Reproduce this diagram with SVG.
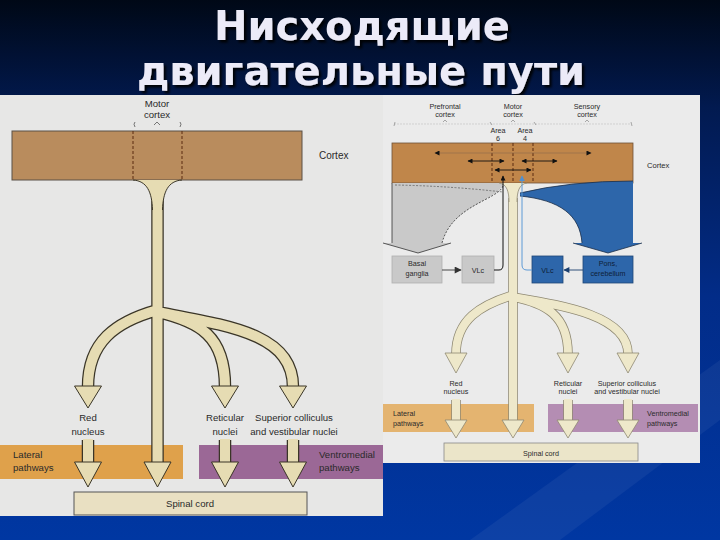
<svg xmlns="http://www.w3.org/2000/svg" width="720" height="540" viewBox="0 0 720 540">
<defs>
<linearGradient id="bg" x1="0" y1="0" x2="0" y2="1">
<stop offset="0" stop-color="#000816"/>
<stop offset="0.2" stop-color="#021a50"/>
<stop offset="0.55" stop-color="#022c88"/>
<stop offset="1" stop-color="#0037a2"/>
</linearGradient>
<filter id="sh" x="-10%" y="-10%" width="130%" height="140%"><feDropShadow dx="2.5" dy="2.5" stdDeviation="0.8" flood-color="#000" flood-opacity="0.9"/></filter>
<marker id="ak" viewBox="0 0 10 10" refX="9" refY="5" markerWidth="6" markerHeight="5" orient="auto-start-reverse" markerUnits="userSpaceOnUse"><path d="M0,0 L10,5 L0,10 Z" fill="#111"/></marker>
<marker id="ab" viewBox="0 0 10 10" refX="9" refY="5" markerWidth="6" markerHeight="6" orient="auto-start-reverse" markerUnits="userSpaceOnUse"><path d="M0,0 L10,5 L0,10 Z" fill="#4f8fd0"/></marker>
<marker id="adb" viewBox="0 0 10 10" refX="9" refY="5" markerWidth="7" markerHeight="6" orient="auto-start-reverse" markerUnits="userSpaceOnUse"><path d="M0,0 L10,5 L0,10 Z" fill="#1b3f6e"/></marker>
<marker id="ag" viewBox="0 0 10 10" refX="9" refY="5" markerWidth="8" markerHeight="7" orient="auto-start-reverse" markerUnits="userSpaceOnUse"><path d="M0,0 L10,5 L0,10 Z" fill="#333"/></marker>
</defs>
<style>
.t{font-family:"Liberation Sans",Arial,sans-serif;fill:#2a2a2a}
.l{font-size:9.6px}
.r{font-size:7.2px}
.m{text-anchor:middle}
.ttl{font-family:"DejaVu Sans",Verdana,sans-serif;font-weight:bold;font-size:40px;fill:#ecebf8;text-anchor:middle}
.to{fill:none;stroke:#3a3527;stroke-width:12.5}
.ti{fill:none;stroke:#e6dcb3;stroke-width:10}
.hd{fill:#e6dcb3;stroke:#3a3527;stroke-width:1}
.rto{fill:none;stroke:#8e8872;stroke-width:9.5}
.rti{fill:none;stroke:#eee8ca;stroke-width:8}
.rhd{fill:#eee8ca;stroke:#8e8872;stroke-width:0.8}
.dash{stroke:#5a2a10;stroke-width:1;stroke-dasharray:3,2;fill:none}
</style>

<rect width="720" height="540" fill="url(#bg)"/>
<polygon points="470,540 720,360 720,420 560,540" fill="#ffffff" opacity="0.05"/>

<g id="title" filter="url(#sh)">
<text class="ttl" x="362" y="40">Нисходящие</text>
<text class="ttl" x="361" y="85">двигательные пути</text>
</g>

<!-- LEFT DIAGRAM -->
<g id="left-panel">
<rect x="0" y="95" width="383" height="421" fill="#e7e7e6"/>
</g>
<g id="left-motor-label">
<text class="t l m" x="157" y="107">Motor</text>
<text class="t l m" x="157" y="118">cortex</text>
<path d="M154,125 L157,122 L160,125" fill="none" stroke="#444" stroke-width="0.7"/>
<path d="M135,127 Q133,124 135,122" fill="none" stroke="#555" stroke-width="0.8"/>
<path d="M180,127 Q182,124 180,122" fill="none" stroke="#555" stroke-width="0.8"/>
</g>
<g id="left-cortex">
<rect x="12" y="131" width="290" height="49" fill="#b98c5d" stroke="#5a5046" stroke-width="1"/>
<line class="dash" x1="133" y1="131" x2="133" y2="180"/>
<line class="dash" x1="182" y1="131" x2="182" y2="180"/>
<text class="t" x="319" y="159" font-size="10">Cortex</text>
</g>
<g id="left-bands">
<rect x="0" y="445" width="183" height="34" fill="#dfa14b"/>
<rect x="199" y="445" width="184" height="34" fill="#9b6896"/>
<text class="t l" x="13" y="458">Lateral</text>
<text class="t l" x="13" y="471">pathways</text>
<text class="t l" x="319" y="458">Ventromedial</text>
<text class="t l" x="319" y="471">pathways</text>
</g>
<g id="left-labels">
<text class="t l m" x="88" y="421">Red</text>
<text class="t l m" x="88" y="435">nucleus</text>
<text class="t l m" x="225" y="421">Reticular</text>
<text class="t l m" x="225" y="435">nuclei</text>
<text class="t l m" x="294" y="421">Superior colliculus</text>
<text class="t l m" x="294" y="435">and vestibular nuclei</text>
</g>
<g id="left-spinal">
<rect x="74" y="492" width="233" height="23" fill="#e9e0c2" stroke="#555" stroke-width="1"/>
<text class="t l m" x="190" y="507">Spinal cord</text>
</g>
<g id="left-connectors">
<path class="to" d="M157.5,200 V463 M157.5,310 C115,322 88,342 88,387 M157.5,312 C230,326 293,334 293,387 M157.5,312 C200,322 225,336 225,387 M88,440 V463 M225,440 V463 M293,440 V463"/>
<path class="ti" d="M157.5,200 V463 M157.5,310 C115,322 88,342 88,387 M157.5,312 C230,326 293,334 293,387 M157.5,312 C200,322 225,336 225,387 M88,439 V463 M225,439 V463 M293,439 V463"/>
<path d="M133,180 C147,181 152,192 152.5,210 L162.5,210 C163,192 168,181 182,180 Z" fill="#e6dcb3"/>
<path d="M133,180 C147,181 152,192 152.5,210 M182,180 C168,181 163,192 162.5,210" fill="none" stroke="#3a3527" stroke-width="1"/>
<polygon class="hd" points="74.5,386 101.5,386 88,408"/>
<polygon class="hd" points="211.5,386 238.5,386 225,408"/>
<polygon class="hd" points="279.5,386 306.5,386 293,408"/>
<polygon class="hd" points="74.5,462 101.5,462 88,487"/>
<polygon class="hd" points="144,462 171,462 157.5,487"/>
<polygon class="hd" points="211.5,462 238.5,462 225,487"/>
<polygon class="hd" points="279.5,462 306.5,462 293,487"/>
</g>

<!-- RIGHT DIAGRAM -->
<g id="right-panel">
<rect x="383" y="95" width="317" height="368" fill="#ebebeb"/>
</g>
<g id="right-top-labels">
<text class="t r m" x="445" y="109">Prefrontal</text>
<text class="t r m" x="445" y="117">cortex</text>
<text class="t r m" x="513" y="109">Motor</text>
<text class="t r m" x="513" y="117">cortex</text>
<text class="t r m" x="587" y="109">Sensory</text>
<text class="t r m" x="587" y="117">cortex</text>
<path d="M443,122 L445,120 L447,122 M511,122 L513,120 L515,122 M585,122 L587,120 L589,122" fill="none" stroke="#777" stroke-width="0.6"/>
<line x1="394" y1="124" x2="631" y2="124" stroke="#c4c4c4" stroke-width="0.7" stroke-dasharray="2,1"/>
<path d="M394,126 L395,122 M490,122 L492,125 M534,122 L536,125 M631,122 L632,126" fill="none" stroke="#888" stroke-width="0.7"/>
<text class="t r m" x="498" y="133">Area</text>
<text class="t r m" x="498" y="141">6</text>
<text class="t r m" x="525" y="133">Area</text>
<text class="t r m" x="525" y="141">4</text>
</g>
<g id="right-cortex">
<rect x="392" y="143" width="241" height="40" fill="#c0864a" stroke="#6e5238" stroke-width="0.8"/>
<line class="dash" x1="492" y1="143" x2="492" y2="183"/>
<line class="dash" x1="513" y1="143" x2="513" y2="183"/>
<line class="dash" x1="533" y1="143" x2="533" y2="183"/>
<text class="t" x="647" y="168" font-size="7.6px">Cortex</text>
</g>
<g id="right-gray-output">
<path d="M392,183 L503,183 C501,200 452,205 442,243 L392,243 Z" fill="#c9c9c9"/>
<polygon points="383,243 451,243 418,253" fill="#c9c9c9"/>
<path d="M392,183 V243 M383,243 L418,253 L451,243" fill="none" stroke="#333" stroke-width="0.8"/>
<path d="M503,186 C498,200 452,205 442,243" fill="none" stroke="#333" stroke-width="0.8" stroke-dasharray="2,1.5"/>
<path d="M395,185 Q450,186 503,192" fill="none" stroke="#555" stroke-width="0.7" stroke-dasharray="2,1.5"/>
</g>
<g id="right-blue-output">
<path d="M520,193 Q570,181 633,181 L633,243 L582,243 C580,215 560,200 520,196 Z" fill="#2d66aa"/>
<polygon points="573,243 642,243 608,253" fill="#2d66aa"/>
<path d="M520,193 Q570,181 633,181 M573,243 L608,253 L642,243 M582,243 C580,215 560,200 520,196" fill="none" stroke="#1a2d48" stroke-width="0.8"/>
</g>
<g id="right-cortex-arrows">
<line x1="435" y1="153" x2="591" y2="153" stroke="#8a6a4a" stroke-width="0.6" marker-start="url(#ak)" marker-end="url(#ak)"/>
<line x1="468" y1="161" x2="504" y2="161" stroke="#111" stroke-width="0.9" marker-start="url(#ak)" marker-end="url(#ak)"/>
<line x1="522" y1="161" x2="557" y2="161" stroke="#111" stroke-width="0.9" marker-start="url(#ak)" marker-end="url(#ak)"/>
<line x1="495" y1="170" x2="531" y2="170" stroke="#111" stroke-width="0.9" marker-start="url(#ak)" marker-end="url(#ak)"/>
</g>
<g id="right-bands">
<rect x="383" y="404" width="151" height="28" fill="#e4b470"/>
<rect x="548" y="404" width="150" height="28" fill="#b48db3"/>
<text class="t r" x="393" y="415.5">Lateral</text>
<text class="t r" x="393" y="425.5">pathways</text>
<text class="t r" x="647" y="415.5">Ventromedial</text>
<text class="t r" x="647" y="425.5">pathways</text>
</g>
<g id="right-labels">
<text class="t r m" x="456" y="385.5">Red</text>
<text class="t r m" x="456" y="393.5">nucleus</text>
<text class="t r m" x="568" y="385.5">Reticular</text>
<text class="t r m" x="568" y="393.5">nuclei</text>
<text class="t r m" x="627" y="385.5">Superior colliculus</text>
<text class="t r m" x="627" y="393.5">and vestibular nuclei</text>
</g>
<g id="right-spinal">
<rect x="444" y="443" width="194" height="18" fill="#ebe5c9" stroke="#888" stroke-width="0.8"/>
<text class="t r m" x="541" y="455.5">Spinal cord</text>
</g>
<g id="basal-ganglia">
<rect x="392" y="256" width="50" height="27" fill="#c9c9c9" stroke="#b0b0b0" stroke-width="0.8"/>
<text class="t r m" x="417" y="265.5" fill="#444">Basal</text>
<text class="t r m" x="417" y="275.5">ganglia</text>
</g>
<g id="vlc-gray">
<rect x="462" y="256" width="32" height="27" fill="#c9c9c9" stroke="#b0b0b0" stroke-width="0.8"/>
<text class="t r m" x="478" y="272.5">VLc</text>
</g>
<g id="vlc-blue">
<rect x="532" y="256" width="31" height="27" fill="#2d66aa" stroke="#1f4677" stroke-width="0.8"/>
<text class="t r m" x="547.5" y="272.5" style="fill:#0d1e38">VLc</text>
</g>
<g id="pons-cerebellum">
<rect x="583" y="256" width="50" height="27" fill="#2d66aa" stroke="#1f4677" stroke-width="0.8"/>
<text class="t r m" x="608" y="265.5" style="fill:#0d1e38">Pons,</text>
<text class="t r m" x="608" y="275.5" style="fill:#0d1e38">cerebellum</text>
</g>
<g id="right-connectors">
<path class="rto" d="M513,198 V421 M513,295 C480,305 456,320 456,354 M513,297 C560,305 628,315 628,354 M513,297 C545,303 568,315 568,354 M456,400 V421 M568,400 V421 M628,400 V421"/>
<path class="rti" d="M513,198 V421 M513,295 C480,305 456,320 456,354 M513,297 C560,305 628,315 628,354 M513,297 C545,303 568,315 568,354 M456,399 V421 M568,399 V421 M628,399 V421"/>
<path d="M499,183 C507,184 509,192 509,202 L517,202 C517,192 519,184 527,183 Z" fill="#eee8ca"/>
<path d="M499,183 C507,184 509,192 509,202 M527,183 C519,184 517,192 517,202" fill="none" stroke="#8e8872" stroke-width="0.8"/>
<polygon class="rhd" points="445,353 467,353 456,373"/>
<polygon class="rhd" points="557,353 579,353 568,373"/>
<polygon class="rhd" points="617,353 639,353 628,373"/>
<polygon class="rhd" points="445,420 467,420 456,438"/>
<polygon class="rhd" points="502,420 524,420 513,438"/>
<polygon class="rhd" points="557,420 579,420 568,438"/>
<polygon class="rhd" points="617,420 639,420 628,438"/>
<line x1="442" y1="270" x2="461" y2="270" stroke="#333" stroke-width="0.9" marker-end="url(#ag)"/>
<line x1="583" y1="270" x2="564" y2="270" stroke="#1b3f6e" stroke-width="0.9" marker-end="url(#adb)"/>
<path d="M494,270 H499 Q503,270 503,265 V176" fill="none" stroke="#111" stroke-width="1" marker-end="url(#ak)"/>
<path d="M532,270 H527 Q522,270 522,265 V176" fill="none" stroke="#5d9ad6" stroke-width="1" marker-end="url(#ab)"/>
</g>
</svg>
